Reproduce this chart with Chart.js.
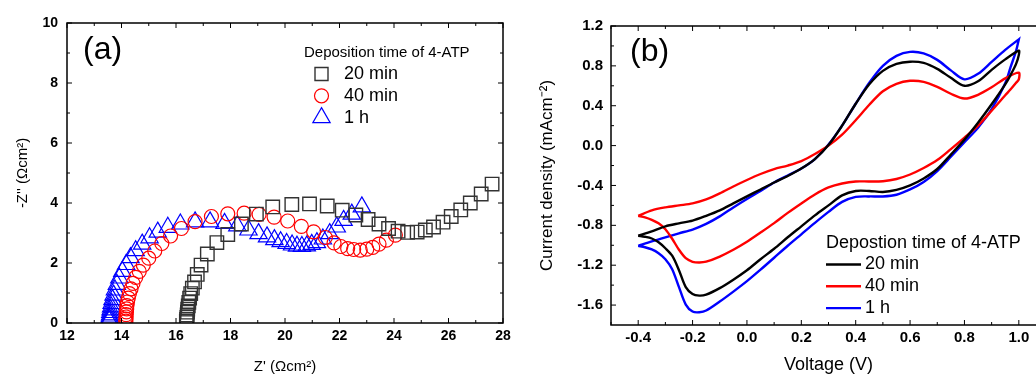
<!DOCTYPE html>
<html>
<head>
<meta charset="utf-8">
<script src="https://cdn.jsdelivr.net/npm/chart.js@4.4.1/dist/chart.umd.min.js"></script>
<style>
  html, body { margin: 0; padding: 0; background: #fff; overflow: hidden; }
  #wrapA { position: absolute; left: 0; top: 0; width: 520px; height: 376px; }
  #wrapB { position: absolute; left: 520px; top: 0; width: 540px; height: 376px; }
</style>
</head>
<body>
<div id="wrapA"><canvas id="eis"></canvas></div>
<div id="wrapB"><canvas id="cv"></canvas></div>
<script>
// (a) Nyquist data, Z' and -Z'' in ohm cm2
const z20Re = [16.38, 16.39, 16.4, 16.41, 16.42, 16.43, 16.45, 16.47, 16.5, 16.54, 16.6, 16.68, 16.78, 16.92, 17.15, 17.5, 17.9, 18.4, 18.95, 19.55, 20.25, 20.9, 21.55, 22.1, 22.6, 23.05, 23.45, 23.8, 24.15, 24.5, 24.85, 25.15, 25.45, 25.8, 26.1, 26.45, 26.8, 27.2, 27.6];
const z20Im = [0.05, 0.12, 0.19, 0.27, 0.36, 0.46, 0.57, 0.69, 0.83, 0.98, 1.16, 1.37, 1.62, 1.93, 2.3, 2.68, 2.95, 3.3, 3.63, 3.87, 3.95, 3.97, 3.9, 3.76, 3.6, 3.45, 3.3, 3.15, 3.06, 3.02, 3.03, 3.1, 3.2, 3.36, 3.55, 3.77, 4.0, 4.3, 4.63];
const z40Re = [14.16, 14.16, 14.17, 14.17, 14.18, 14.19, 14.2, 14.22, 14.25, 14.29, 14.35, 14.42, 14.52, 14.65, 14.8, 15.0, 15.22, 15.48, 15.8, 16.2, 16.7, 17.3, 17.9, 18.5, 19.05, 19.6, 20.1, 20.6, 21.05, 21.48, 21.8, 22.05, 22.3, 22.52, 22.76, 23.0, 23.22, 23.45, 23.72, 24.05];
const z40Im = [0.06, 0.13, 0.2, 0.28, 0.37, 0.47, 0.58, 0.7, 0.83, 0.98, 1.14, 1.32, 1.52, 1.72, 1.93, 2.16, 2.4, 2.65, 2.9, 3.15, 3.38, 3.55, 3.64, 3.66, 3.62, 3.53, 3.4, 3.22, 3.04, 2.85, 2.67, 2.55, 2.48, 2.45, 2.43, 2.46, 2.52, 2.63, 2.76, 2.93];
const z1hRe = [13.55, 13.56, 13.57, 13.58, 13.59, 13.6, 13.62, 13.64, 13.67, 13.71, 13.76, 13.83, 13.92, 14.03, 14.17, 14.33, 14.52, 14.76, 15.03, 15.33, 15.7, 16.16, 16.7, 17.25, 17.78, 18.25, 18.66, 19.03, 19.34, 19.61, 19.84, 20.06, 20.26, 20.44, 20.62, 20.8, 20.98, 21.17, 21.39, 21.64, 21.9, 22.15, 22.45, 22.82];
const z1hIm = [0.08, 0.14, 0.2, 0.27, 0.35, 0.44, 0.54, 0.65, 0.78, 0.93, 1.1, 1.29, 1.5, 1.72, 1.95, 2.18, 2.41, 2.63, 2.84, 3.03, 3.19, 3.3, 3.37, 3.37, 3.32, 3.24, 3.1, 2.98, 2.87, 2.78, 2.71, 2.65, 2.6, 2.56, 2.55, 2.57, 2.62, 2.68, 2.8, 2.98, 3.2, 3.42, 3.63, 3.87];
const eisTicksX = [12, 14, 16, 18, 20, 22, 24, 26, 28];
const eisMinorX = [13, 15, 17, 19, 21, 23, 25, 27];
const eisTicksY = [0, 2, 4, 6, 8, 10];
const eisMinorY = [1, 3, 5, 7, 9];

// (b) CV data, voltage (V) and current density (mA cm-2)
const vFwd = [-0.4, -0.35, -0.3, -0.25, -0.2, -0.15, -0.1, -0.05, 0.0, 0.05, 0.1, 0.15, 0.2, 0.25, 0.3, 0.35, 0.4, 0.45, 0.5, 0.55, 0.6, 0.65, 0.7, 0.75, 0.8, 0.85, 0.9, 0.95, 1.0];
const vRev = [1.0, 0.99, 0.97, 0.95, 0.9, 0.85, 0.8, 0.75, 0.7, 0.65, 0.6, 0.55, 0.5, 0.45, 0.4, 0.35, 0.3, 0.25, 0.2, 0.15, 0.1, 0.05, 0.0, -0.05, -0.1, -0.15, -0.175, -0.2, -0.225, -0.25, -0.275, -0.3, -0.325, -0.35, -0.375, -0.4];
const i20Fwd = [-0.905, -0.86, -0.81, -0.78, -0.753, -0.705, -0.65, -0.58, -0.51, -0.44, -0.37, -0.305, -0.23, -0.135, 0.005, 0.2, 0.42, 0.615, 0.75, 0.82, 0.842, 0.83, 0.77, 0.68, 0.6, 0.645, 0.76, 0.865, 0.953];
const i20Rev = [0.91, 0.82, 0.71, 0.615, 0.415, 0.23, 0.06, -0.09, -0.235, -0.33, -0.4, -0.445, -0.465, -0.455, -0.455, -0.5, -0.6, -0.7, -0.81, -0.92, -1.035, -1.14, -1.25, -1.345, -1.43, -1.495, -1.505, -1.49, -1.42, -1.25, -1.105, -1.03, -0.97, -0.932, -0.915, -0.905];
const i40Fwd = [-0.705, -0.65, -0.62, -0.6, -0.58, -0.54, -0.48, -0.41, -0.345, -0.285, -0.236, -0.2, -0.155, -0.085, 0.0, 0.11, 0.255, 0.41, 0.545, 0.62, 0.65, 0.64, 0.59, 0.52, 0.472, 0.51, 0.585, 0.675, 0.732];
const i40Rev = [0.665, 0.63, 0.565, 0.505, 0.35, 0.2, 0.08, -0.035, -0.145, -0.225, -0.29, -0.335, -0.357, -0.36, -0.36, -0.38, -0.42, -0.49, -0.58, -0.675, -0.778, -0.873, -0.965, -1.045, -1.113, -1.165, -1.173, -1.166, -1.13, -1.045, -0.935, -0.84, -0.78, -0.745, -0.72, -0.705];
const i1hFwd = [-1.005, -0.96, -0.92, -0.88, -0.842, -0.785, -0.71, -0.62, -0.535, -0.455, -0.37, -0.3, -0.23, -0.135, 0.01, 0.2, 0.42, 0.63, 0.8, 0.9, 0.94, 0.925, 0.86, 0.755, 0.665, 0.72, 0.84, 0.96, 1.066];
const i1hRev = [1.066, 0.95, 0.79, 0.625, 0.365, 0.18, 0.035, -0.112, -0.255, -0.365, -0.44, -0.493, -0.51, -0.51, -0.515, -0.565, -0.665, -0.775, -0.89, -1.005, -1.125, -1.245, -1.36, -1.465, -1.565, -1.655, -1.672, -1.665, -1.595, -1.42, -1.24, -1.14, -1.08, -1.042, -1.02, -1.005];
const cvTicksX = [-0.4, -0.2, 0.0, 0.2, 0.4, 0.6, 0.8, 1.0];
const cvMinorX = [-0.5, -0.3, -0.1, 0.1, 0.3, 0.5, 0.7, 0.9];
const cvTicksY = [-1.6, -1.2, -0.8, -0.4, 0.0, 0.4, 0.8, 1.2];
const cvMinorY = [-1.4, -1.0, -0.6, -0.2, 0.2, 0.6, 1.0];

const FONT = 'Arial, "Liberation Sans", sans-serif';
Chart.defaults.font.family = FONT;
Chart.defaults.color = '#000';

const pairs = (xs, ys) => xs.map((x, i) => ({ x: x, y: ys[i] }));

// box with inward ticks on all four sides
const axisFrame = {
  id: 'axisFrame',
  afterDatasetsDraw(chart, args, o) {
    const { ctx, chartArea: a } = chart;
    const sx = chart.scales.x, sy = chart.scales.y;
    const seg = (x1, y1, x2, y2) => { ctx.beginPath(); ctx.moveTo(x1, y1); ctx.lineTo(x2, y2); ctx.stroke(); };
    ctx.save();
    ctx.strokeStyle = '#000';
    ctx.lineWidth = 1;
    const xt = (vals, len) => vals.forEach(v => {
      const p = sx.getPixelForValue(v);
      seg(p, a.bottom, p, a.bottom - len); seg(p, a.top, p, a.top + len);
    });
    const yt = (vals, len) => vals.forEach(v => {
      const p = sy.getPixelForValue(v);
      seg(a.left, p, a.left + len, p); seg(a.right, p, a.right - len, p);
    });
    xt(o.xMajor, 5); xt(o.xMinor, 3); yt(o.yMajor, 5); yt(o.yMinor, 3);
    ctx.lineWidth = 1.5;
    ctx.strokeRect(a.left, a.top, a.right - a.left, a.bottom - a.top);
    ctx.restore();
  }
};

// panel tag and the in-plot legend
const panelNote = {
  id: 'panelNote',
  afterDraw(chart, args, o) {
    const ctx = chart.ctx;
    ctx.save();
    ctx.textBaseline = 'middle';
    ctx.textAlign = 'left';
    ctx.fillStyle = '#000';
    ctx.font = '32px ' + FONT;
    ctx.fillText(o.tag, o.tagX, o.tagY);
    ctx.font = o.titleSize + 'px ' + FONT;
    ctx.fillText(o.title, o.titleX, o.titleY);
    ctx.font = o.itemSize + 'px ' + FONT;
    chart.data.datasets.forEach((ds, i) => {
      const yy = o.itemY + i * o.itemGap;
      ctx.strokeStyle = ds.borderColor;
      ctx.lineWidth = ds.borderWidth;
      ctx.beginPath();
      if (o.key === 'line') {
        ctx.moveTo(o.keyX, yy); ctx.lineTo(o.keyX + o.keyW, yy);
      } else if (ds.pointStyle === 'rect') {
        ctx.rect(o.keyX - 6.5, yy - 6.5, 13, 13);
      } else if (ds.pointStyle === 'circle') {
        ctx.arc(o.keyX, yy, 7, 0, Math.PI * 2);
      } else {
        const r = 10;
        ctx.moveTo(o.keyX, yy - r);
        ctx.lineTo(o.keyX + r * 0.866, yy + r / 2);
        ctx.lineTo(o.keyX - r * 0.866, yy + r / 2);
        ctx.closePath();
      }
      ctx.stroke();
      ctx.fillStyle = '#000';
      ctx.fillText(ds.label, o.textX, yy);
    });
    ctx.restore();
  }
};

const setTicks = vals => scale => { scale.ticks = vals.map(v => ({ value: v })); };

new Chart(document.getElementById('eis'), {
  type: 'scatter',
  data: {
    datasets: [
      { label: '20 min', data: pairs(z20Re, z20Im), pointStyle: 'rect', pointRadius: 9.5,
        borderColor: '#333', backgroundColor: 'rgba(0,0,0,0)', borderWidth: 1.4 },
      { label: '40 min', data: pairs(z40Re, z40Im), pointStyle: 'circle', pointRadius: 7,
        borderColor: '#ff0000', backgroundColor: 'rgba(0,0,0,0)', borderWidth: 1.2 },
      { label: '1 h', data: pairs(z1hRe, z1hIm), pointStyle: 'triangle', pointRadius: 10,
        borderColor: '#0000ff', backgroundColor: 'rgba(0,0,0,0)', borderWidth: 1.2 }
    ]
  },
  options: {
    responsive: true,
    maintainAspectRatio: false,
    animation: false,
    layout: { padding: { top: 23, right: 17, bottom: 0, left: 0 } },
    scales: {
      x: {
        type: 'linear', min: 12, max: 28,
        afterBuildTicks: setTicks(eisTicksX),
        afterFit: s => { s.height = 53; },
        grid: { display: false, drawTicks: false }, border: { display: false },
        ticks: { font: { size: 14, weight: 'bold' }, padding: 5, maxRotation: 0 },
        title: { display: true, text: "Z' (Ωcm²)", font: { size: 15 }, padding: { top: 0, bottom: 0 } }
      },
      y: {
        type: 'linear', min: 0, max: 10,
        afterBuildTicks: setTicks(eisTicksY),
        afterFit: s => { s.width = 67; },
        grid: { display: false, drawTicks: false }, border: { display: false },
        ticks: { font: { size: 14, weight: 'bold' }, padding: 9 },
        title: { display: true, text: "-Z'' (Ωcm²)", font: { size: 15 }, padding: { top: 14, bottom: 0 } }
      }
    },
    plugins: {
      legend: { display: false },
      tooltip: { enabled: false },
      axisFrame: { xMajor: eisTicksX, xMinor: eisMinorX, yMajor: eisTicksY, yMinor: eisMinorY },
      panelNote: {
        tag: '(a)', tagX: 83, tagY: 50,
        title: 'Deposition time of 4-ATP', titleSize: 15, titleX: 304, titleY: 53,
        itemSize: 18, key: 'marker', keyX: 321.5, keyW: 0, textX: 344, itemY: 74, itemGap: 21.8
      }
    }
  },
  plugins: [axisFrame, panelNote]
});

new Chart(document.getElementById('cv'), {
  type: 'scatter',
  data: {
    datasets: [
      { label: '20 min', data: pairs(vFwd, i20Fwd).concat(pairs(vRev, i20Rev)), borderColor: '#000000' },
      { label: '40 min', data: pairs(vFwd, i40Fwd).concat(pairs(vRev, i40Rev)), borderColor: '#ff0000' },
      { label: '1 h', data: pairs(vFwd, i1hFwd).concat(pairs(vRev, i1hRev)), borderColor: '#0000ff' }
    ].map(ds => Object.assign(ds, { showLine: true, pointRadius: 0, borderWidth: 2.4, tension: 0.3, fill: false }))
  },
  options: {
    responsive: true,
    maintainAspectRatio: false,
    animation: false,
    layout: { padding: { top: 26, right: 14, bottom: 0, left: 0 } },
    scales: {
      x: {
        type: 'linear', min: -0.5, max: 1.1,
        afterBuildTicks: setTicks(cvTicksX),
        afterFit: s => { s.height = 51; },
        grid: { display: false, drawTicks: false }, border: { display: false },
        ticks: { font: { size: 15, weight: 'bold' }, padding: 4, maxRotation: 0, callback: v => v.toFixed(1) },
        title: { display: true, text: 'Voltage (V)', font: { size: 18 }, padding: { top: 0, bottom: 0 } }
      },
      y: {
        type: 'linear', min: -1.8, max: 1.2,
        afterBuildTicks: setTicks(cvTicksY),
        afterFit: s => { s.width = 91; },
        grid: { display: false, drawTicks: false }, border: { display: false },
        ticks: { font: { size: 15, weight: 'bold' }, padding: 8, callback: v => v.toFixed(1) },
        title: { display: true, text: 'Current density (mAcm⁻²)', font: { size: 17 }, padding: { top: 17, bottom: 0 } }
      }
    },
    plugins: {
      legend: { display: false },
      tooltip: { enabled: false },
      axisFrame: { xMajor: cvTicksX, xMinor: cvMinorX, yMajor: cvTicksY, yMinor: cvMinorY },
      panelNote: {
        tag: '(b)', tagX: 110, tagY: 52,
        title: 'Depostion time of 4-ATP', titleSize: 18, titleX: 306, titleY: 243,
        itemSize: 18, key: 'line', keyX: 306, keyW: 35, textX: 345, itemY: 264.5, itemGap: 21.8
      }
    }
  },
  plugins: [axisFrame, panelNote]
});
</script>
</body>
</html>
